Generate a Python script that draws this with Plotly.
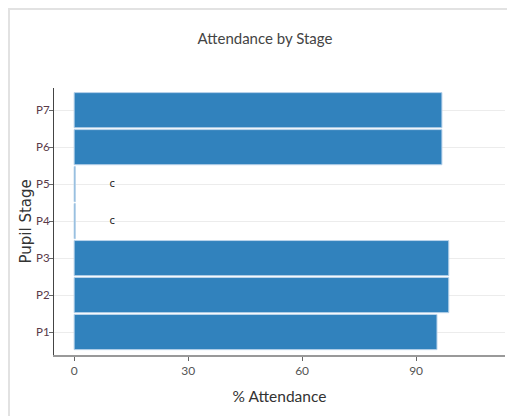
import plotly.graph_objects as go

# attendance per pupil stage (P4/P5 suppressed, shown as "c")
stages = ["P1", "P2", "P3", "P4", "P5", "P6", "P7"]
attendance = [95.5, 98.6, 98.6, 0.3, 0.3, 96.8, 96.8]
flags = ["", "", "", "c", "c", "", ""]
flag_x = [10 if f else None for f in flags]
x_ticks = [0, 30, 60, 90]

W, H = 515, 416
ML, MR, MT, MB = 46, 18, 80, 69
pw, ph = W - ML - MR, H - MT - MB
FONT = "Lato, 'Open Sans', sans-serif"

fig = go.Figure()
fig.add_trace(go.Bar(
    y=stages, x=attendance,
    orientation="h",
    marker=dict(color="#3182bd", line=dict(color="#b9d3ea", width=1)),
    hoverinfo="x+y",
    showlegend=False,
))
fig.add_trace(go.Scatter(
    y=stages, x=flag_x,
    mode="text",
    text=flags,
    textfont=dict(family="DejaVu Sans", size=10, color="#222"),
    showlegend=False,
    hoverinfo="skip",
))

# panel border along the figure edge
fig.add_shape(
    type="rect", xref="paper", yref="paper",
    x0=(1 - ML) / pw, x1=2,
    y0=-1, y1=(ph + MT - 1) / ph,
    line=dict(color="#e2e2e2", width=2),
    fillcolor="rgba(0,0,0,0)",
    layer="below",
)

# y-axis title placed by hand so it sits where the original does
fig.add_annotation(
    text="Pupil Stage", textangle=-90,
    xref="paper", yref="paper",
    x=(17 - ML) / pw, y=0.5,
    xanchor="center", yanchor="middle",
    showarrow=False,
    font=dict(family="DejaVu Sans", size=15, color="#333"),
)

fig.update_layout(
    width=W, height=H,
    margin=dict(l=ML, r=MR, t=MT, b=MB),
    paper_bgcolor="white",
    plot_bgcolor="white",
    bargap=0.05,
    font=dict(family=FONT, color="#444"),
    title=dict(
        text="Attendance by Stage",
        x=257 / W, xanchor="center",
        y=1 - 31 / H, yanchor="middle", yref="container",
        font=dict(family=FONT, size=15, color="#444"),
    ),
    xaxis=dict(
        range=[-5.3, 113.4],
        tickvals=x_ticks,
        ticks="outside", ticklen=4, tickcolor="#666",
        showgrid=False, zeroline=False,
        showline=True, linecolor="#999", linewidth=2,
        tickfont=dict(family=FONT, size=12, color="#555"),
        title=dict(text="% Attendance", standoff=14,
                   font=dict(family=FONT, size=15.5, color="#333")),
    ),
    yaxis=dict(
        range=[-0.62, 6.6],
        categoryorder="array", categoryarray=stages,
        ticks="outside", ticklen=4, tickcolor="#666",
        ticklabelstandoff=-3,
        showgrid=True, gridcolor="#ececec", gridwidth=1,
        zeroline=False,
        showline=True, linecolor="#444", linewidth=1,
        tickfont=dict(family=FONT, size=11.5, color="#5a3a48"),
    ),
)

fig.write_html("out.html")
